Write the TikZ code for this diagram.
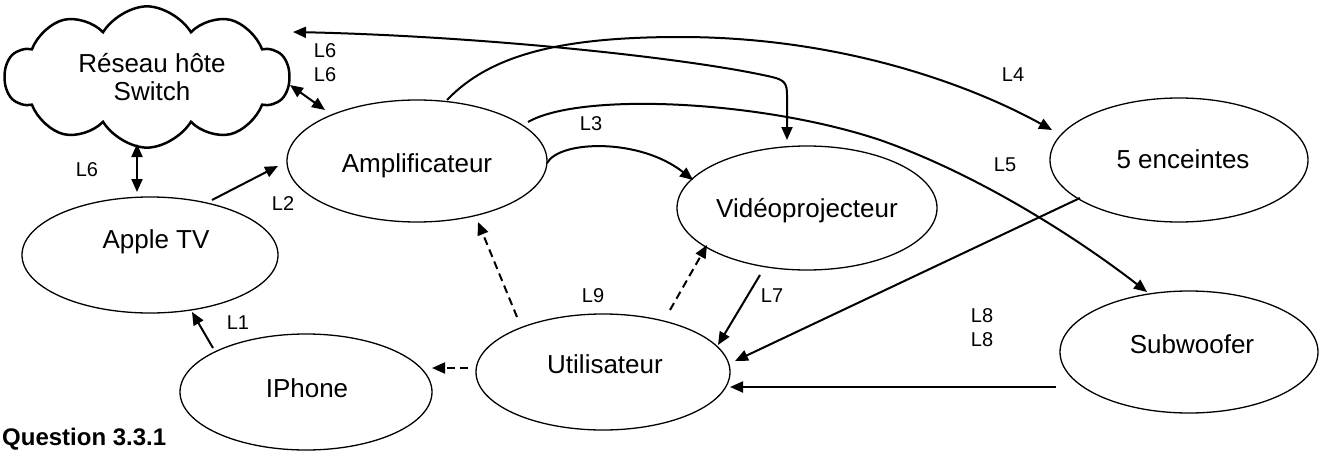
\documentclass[tikz,border=0pt]{standalone}
\usepackage{fontspec}
\setmainfont{Liberation Sans}
\usetikzlibrary{shapes.symbols,shapes.geometric,arrows.meta,calc}
\begin{document}
\begin{tikzpicture}[x=1pt,y=-1pt,
  >={Triangle[length=13pt,width=11pt]},
  ell/.style={draw, ellipse, line width=1.3pt, inner sep=0pt},
  txt/.style={font=\fontsize{26}{29}\selectfont, anchor=base, inner sep=0pt},
  lab/.style={font=\fontsize{20}{22}\selectfont, inner sep=0pt},
  conn/.style={line width=2pt, ->},
  dconn/.style={line width=2pt, <->},
  dsh/.style={line width=2pt, ->, dash pattern=on 8pt off 5pt}]
\useasboundingbox (0,0) rectangle (1325,452);

% nodes
\node[draw, cloud, cloud puffs=10, cloud puff arc=110, cloud ignores aspect,
      minimum width=284, minimum height=125, line width=2.5pt, inner sep=0pt,
      yscale=1.13, transform shape] (cloud) at (147,77) {};
\node[txt] (cloudt1) at ($(cloud)+(5,-4)$) {Réseau hôte};
\node[txt] (cloudt2) at ($(cloud)+(5,23)$) {Switch};

\node[ell, minimum width=260, minimum height=122] (amp) at (417,161) {};
\node[txt] (ampt) at ($(amp)+(0,11)$) {Amplificateur};

\node[ell, minimum width=260, minimum height=124] (vid) at (807,208) {};
\node[txt] (vidt) at ($(vid)+(0,9)$) {Vidéoprojecteur};

\node[ell, minimum width=258, minimum height=124] (enc) at (1179,160) {};
\node[txt] (enct) at ($(enc)+(4,8)$) {5 enceintes};

\node[ell, minimum width=256, minimum height=116] (atv) at (150,255) {};
\node[txt] (atvt) at ($(atv)+(6,-7)$) {Apple TV};

\node[ell, minimum width=252, minimum height=116] (iph) at (306,392) {};
\node[txt] (ipht) at ($(iph)+(1,5)$) {IPhone};

\node[ell, minimum width=254, minimum height=116] (uti) at (603,372) {};
\node[txt] (utit) at ($(uti)+(2,1)$) {Utilisateur};

\node[ell, minimum width=258, minimum height=122] (sub) at (1189,352) {};
\node[txt] (subt) at ($(sub)+(3,1)$) {Subwoofer};

\node[font=\bfseries\fontsize{24}{27}\selectfont, anchor=base west, inner sep=0pt] (q) at (2,445) {Question 3.3.1};

% connectors
\draw[dconn] ($(cloud)+(146,-45)$) .. controls (480,36) and (690,58) .. (772,77)
   .. controls (785,80) and (787,84) .. (787,95) -- ($(vid)+(-20,-68)$);
\draw[conn] ($(amp)+(30,-61)$) .. controls (490,55) and (560,37) .. (680,37)
   .. controls (850,37) and (980,90) .. ($(enc)+(-127,-30)$);
\draw[conn] ($(amp)+(111,-39)$) .. controls (580,92) and (760,100) .. (880,140)
   .. controls (980,175) and (1080,240) .. ($(sub)+(-42,-60)$);
\draw[conn] ($(amp)+(130,2)$) .. controls (560,140) and (640,138) .. ($(vid)+(-114,-28)$);
\draw[conn] ($(atv)+(62,-55)$) -- ($(amp)+(-139,5)$);
\draw[dconn] ($(cloud)+(-10,67)$) -- ($(atv)+(-13,-63)$);
\draw[dconn] ($(cloud)+(143,8)$) -- ($(amp)+(-92,-51)$);
\draw[conn] ($(iph)+(-93,-44)$) -- ($(atv)+(42,57)$);
\draw[dsh] ($(uti)+(-135,-4)$) -- ($(iph)+(126,-24)$);
\draw[dsh] ($(uti)+(-86,-55)$) -- ($(amp)+(61,61)$);
\draw[dsh] ($(uti)+(67,-62)$) -- ($(vid)+(-100,37)$);
\draw[conn] ($(vid)+(-47,67)$) -- ($(uti)+(115,-27)$);
\draw[conn] ($(enc)+(-99,38)$) -- ($(uti)+(132,-11)$);
\draw[conn] ($(sub)+(-133,35)$) -- ($(uti)+(127,15)$);

% labels
\node[lab] (l6a) at (325,51) {L6};
\node[lab] (l6b) at (325,75) {L6};
\node[lab] (l6c) at (87,170) {L6};
\node[lab] (l2) at (283,204) {L2};
\node[lab] (l3) at (591,124) {L3};
\node[lab] (l4) at (1013,75) {L4};
\node[lab] (l5) at (1005,165) {L5};
\node[lab] (l1) at (238,323) {L1};
\node[lab] (l9) at (593,296) {L9};
\node[lab] (l7) at (772,296) {L7};
\node[lab] (l8a) at (982,316) {L8};
\node[lab] (l8b) at (982,340) {L8};
\end{tikzpicture}
\end{document}
